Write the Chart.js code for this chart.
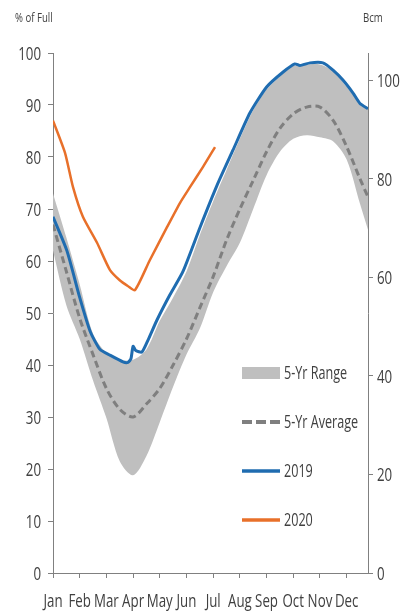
<!DOCTYPE html>
<html>
<head>
<meta charset="utf-8">
<script src="https://cdn.jsdelivr.net/npm/chart.js@4.4.0/dist/chart.umd.min.js"></script>
<style>
  html, body { margin: 0; padding: 0; background: #fff; }
  #wrap { width: 412px; height: 613px; }
</style>
</head>
<body>
<div id="wrap"><canvas id="storageChart" width="412" height="613"></canvas></div>
<script>
// Gas storage, % of full (left) and Bcm (right)
const monthLabels = ["Jan", "Feb", "Mar", "Apr", "May", "Jun", "Jul", "Aug", "Sep", "Oct", "Nov", "Dec"]
const leftTicks = [0, 10, 20, 30, 40, 50, 60, 70, 80, 90, 100]
const rightTicks = [0, 20, 40, 60, 80, 100]

// x positions in months (0 = start of Jan)
const gridMonths = [0, 0.5, 1, 1.5, 2, 2.5, 3, 3.5, 4, 4.5, 5, 5.5, 6, 6.5, 7, 7.5, 8, 8.5, 9, 9.5, 10, 10.5, 11, 11.5, 11.8]
const rangeLow = [62, 51.5, 45, 37, 29.8, 21.5, 18.8, 22.5, 29, 35.8, 42, 47, 54, 59, 63.5, 70, 76.5, 81, 83.5, 84.2, 83.8, 83, 79.5, 71, 66]
const rangeHigh = [73, 64.5, 55.5, 46, 42.3, 41, 41, 43, 48.5, 53, 58, 65, 71.5, 77.5, 83.5, 89, 93, 95.5, 97.5, 97.8, 97.8, 96.5, 93.5, 90.3, 89.2]
const avg5 = [67, 58, 49, 42, 35.5, 31.5, 30, 32.5, 35.5, 40, 45, 51, 57, 64, 70, 75.5, 81, 85.5, 88.3, 89.6, 89.6, 87, 82, 75.8, 72.3]

const months2019 = [0, 0.52, 1.0, 1.39, 1.76, 2.13, 2.62, 2.81, 2.92, 3.0, 3.1, 3.33, 3.56, 3.9, 4.38, 4.87, 5.51, 6.14, 6.74, 7.38, 8.01, 8.61, 9.06, 9.25, 9.63, 10.11, 10.49, 10.86, 11.24, 11.5, 11.8]
const values2019 = [68.5, 62, 53, 46.5, 43, 41.9, 40.6, 40.5, 41.2, 43.6, 42.8, 42.5, 44.8, 48.7, 53.5, 58, 66.5, 74.5, 81.3, 88.5, 93.5, 96.3, 97.9, 97.6, 98.1, 98.1, 96.7, 94.8, 92.3, 90.3, 89.3]

const months2020 = [0, 0.45, 0.75, 1.12, 1.65, 2.13, 2.5, 2.8, 3.07, 3.63, 4.27, 4.76, 5.13, 5.62, 6.07]
const values2020 = [87, 80.8, 74.2, 68.5, 63.5, 58.3, 56.3, 55.2, 54.4, 60.2, 66.5, 71.2, 74.2, 78.1, 81.9]

const textColor = "#404040"
const axisColor = "#808080"
const bandColor = "#bfbfbf"
const avgColor = "#7f7f7f"
const blue = "#1f6cb0"
const orange = "#e8702a"
const fontFamily = "'Open Sans', 'Noto Sans', sans-serif"

function toPoints(xs, ys) {
  return xs.map((x, i) => ({ x: x, y: ys[i] }))
}

// the source uses a narrow face, so text gets squeezed horizontally
function narrowText(ctx, text, x, y, align, size, squeeze) {
  ctx.save()
  ctx.font = size + "px " + fontFamily
  ctx.textAlign = align
  ctx.textBaseline = "alphabetic"
  ctx.translate(x, y)
  ctx.scale(squeeze, 1)
  ctx.fillText(text, 0, 0)
  ctx.restore()
}

const legendItems = [
  { label: "5-Yr Range", kind: "box", color: bandColor },
  { label: "5-Yr Average", kind: "dash", color: avgColor },
  { label: "2019", kind: "line", color: blue },
  { label: "2020", kind: "line", color: orange },
]

const overlayPlugin = {
  id: "overlay",
  afterDraw(chart) {
    const ctx = chart.ctx
    const area = chart.chartArea
    const { x, y, y1 } = chart.scales
    ctx.save()
    ctx.fillStyle = textColor

    // tick labels
    x.ticks.forEach((t) => {
      narrowText(ctx, monthLabels[t.value], x.getPixelForValue(t.value), area.bottom + 34, "center", 19, 0.7)
    })
    y.ticks.forEach((t) => {
      narrowText(ctx, String(t.value), area.left - 12, y.getPixelForValue(t.value) + 7, "right", 19, 0.7)
    })
    y1.ticks.forEach((t) => {
      narrowText(ctx, String(t.value), area.right + 9, y1.getPixelForValue(t.value) + 7, "left", 19, 0.7)
    })

    // legend, lower right of the plot
    const x0 = area.right - 126
    legendItems.forEach((item, i) => {
      const cy = area.bottom - 200 + i * 49
      if (item.kind === "box") {
        ctx.fillStyle = item.color
        ctx.fillRect(x0, cy - 6, 38, 12)
      } else {
        ctx.strokeStyle = item.color
        ctx.lineWidth = item.kind === "dash" ? 4 : 3.5
        ctx.setLineDash(item.kind === "dash" ? [10, 4] : [])
        ctx.beginPath()
        ctx.moveTo(x0, cy)
        ctx.lineTo(x0 + 38, cy)
        ctx.stroke()
        ctx.setLineDash([])
      }
      ctx.fillStyle = textColor
      narrowText(ctx, item.label, x0 + 42, cy + 6, "left", 18, 0.7)
    })

    // unit labels
    narrowText(ctx, "% of Full", 15, 22, "left", 12, 0.8)
    narrowText(ctx, "Bcm", 363, 22, "left", 12, 0.8)
    ctx.restore()
  },
}

document.addEventListener("DOMContentLoaded", () => {
  const ctx = document.getElementById("storageChart").getContext("2d")
  const hidden = "rgba(0,0,0,0)"
  const axisGrid = { drawOnChartArea: false, drawTicks: true, tickLength: 5, color: axisColor }

  new Chart(ctx, {
    type: "line",
    data: {
      datasets: [
        {
          label: "5-Yr Low",
          data: toPoints(gridMonths, rangeLow),
          borderWidth: 0,
          borderColor: hidden,
          pointRadius: 0,
          tension: 0.3,
          fill: false,
          order: 5,
        },
        {
          label: "5-Yr Range",
          data: toPoints(gridMonths, rangeHigh),
          borderWidth: 0,
          borderColor: hidden,
          backgroundColor: bandColor,
          pointRadius: 0,
          tension: 0.3,
          fill: 0,
          order: 4,
        },
        {
          label: "5-Yr Average",
          data: toPoints(gridMonths, avg5),
          borderColor: avgColor,
          borderWidth: 3,
          borderDash: [7, 4],
          pointRadius: 0,
          tension: 0.3,
          fill: false,
          order: 3,
        },
        {
          label: "2019",
          data: toPoints(months2019, values2019),
          borderColor: blue,
          borderWidth: 3,
          pointRadius: 0,
          tension: 0.2,
          fill: false,
          order: 2,
        },
        {
          label: "2020",
          data: toPoints(months2020, values2020),
          borderColor: orange,
          borderWidth: 2.5,
          pointRadius: 0,
          tension: 0.2,
          fill: false,
          order: 1,
        },
      ],
    },
    options: {
      responsive: false,
      animation: false,
      layout: { padding: { top: 53, left: 0, right: 0, bottom: 0 } },
      plugins: {
        legend: { display: false },
        tooltip: { enabled: false },
      },
      scales: {
        x: {
          type: "linear",
          min: 0,
          max: 11.8,
          afterBuildTicks: (scale) => {
            scale.ticks = monthLabels.map((_, i) => ({ value: i }))
          },
          afterFit: (scale) => {
            scale.height = 40
          },
          ticks: { color: hidden, autoSkip: false, maxRotation: 0 },
          grid: axisGrid,
          border: { color: axisColor },
        },
        y: {
          position: "left",
          min: 0,
          max: 100,
          afterBuildTicks: (scale) => {
            scale.ticks = leftTicks.map((v) => ({ value: v }))
          },
          afterFit: (scale) => {
            scale.width = 53
          },
          ticks: { color: hidden },
          grid: axisGrid,
          border: { color: axisColor },
        },
        y1: {
          position: "right",
          min: 0,
          max: 105.5,
          afterBuildTicks: (scale) => {
            scale.ticks = rightTicks.map((v) => ({ value: v }))
          },
          afterFit: (scale) => {
            scale.width = 44
          },
          ticks: { color: hidden },
          grid: axisGrid,
          border: { color: axisColor },
        },
      },
    },
    plugins: [overlayPlugin],
  })
})
</script>
</body>
</html>
